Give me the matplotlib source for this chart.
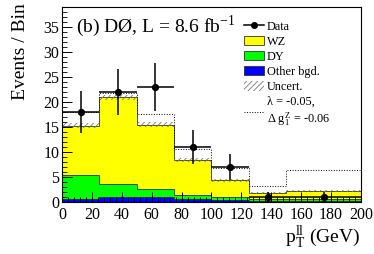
import numpy as np
import matplotlib
matplotlib.use('Agg')
import matplotlib.pyplot as plt
from matplotlib.lines import Line2D
import matplotlib.patches as mpatches
from matplotlib.ticker import MultipleLocator

plt.rcParams['font.family'] = ['Liberation Serif', 'DejaVu Serif']
plt.rcParams['mathtext.fontset'] = 'stix'
plt.rcParams['hatch.linewidth'] = 0.6

# pT(ll) bins (GeV)
edges = np.array([0, 25, 50, 75, 100, 125, 150, 200])
other = np.array([0.5, 1.0, 0.9, 0.5, 0.4, 0.2, 0.2])
dy = np.array([4.9, 2.5, 1.7, 0.9, 0.5, 0.3, 0.35])
wz = np.array([9.9, 17.5, 12.9, 7.0, 3.4, 1.2, 1.55])
uncert = np.array([0.6, 0.5, 0.5, 0.4, 0.3, 0.2, 0.2])
anom = np.array([18.0, 21.9, 17.6, 10.6, 6.7, 3.2, 6.3])  # lambda=-0.05, dg1Z=-0.06
data = np.array([18, 22, 23, 11, 7, 1, 1])

lw = 0.7
fig = plt.figure(figsize=(3.74, 2.54), dpi=100)
ax = fig.add_axes([0.166, 0.205, 0.799, 0.767])

s1 = other
s2 = other + dy
s3 = s2 + wz
ax.stairs(s1, edges, fill=True, color='#0000ff', lw=0)
ax.stairs(s2, edges, baseline=s1, fill=True, color='#00ff00', lw=0)
ax.stairs(s3, edges, baseline=s2, fill=True, color='#ffff00', lw=0)
for top in (s1, s2, s3):
    ax.stairs(top, edges, baseline=None, color='#333333', lw=0.6)
ax.stairs(s3 + uncert, edges, baseline=s3 - uncert, fill=True, facecolor='none',
          edgecolor='#777777', hatch='//////', lw=0)
ax.stairs(anom, edges, baseline=None, color='k', ls=':', lw=lw)

centers = 0.5 * (edges[1:] + edges[:-1])
halfw = 0.5 * (edges[1:] - edges[:-1])
ax.errorbar(centers, data, xerr=halfw, yerr=np.sqrt(data), fmt='o', color='k',
            ms=4.2, lw=1.1, capsize=0)

ax.set_xlim(0, 200)
ax.set_ylim(0, 39)
ax.xaxis.set_major_locator(MultipleLocator(20))
ax.xaxis.set_minor_locator(MultipleLocator(4))
ax.yaxis.set_major_locator(MultipleLocator(5))
ax.yaxis.set_minor_locator(MultipleLocator(1))
ax.tick_params(which='both', direction='in', top=False, right=False, labelsize=11.5)
ax.tick_params(which='major', length=7, width=0.7)
ax.tick_params(which='minor', length=3.5, width=0.6)
ax.tick_params(axis='x', pad=4)
ax.tick_params(axis='y', pad=2)
for sp in ax.spines.values():
    sp.set_linewidth(0.8)

ax.set_ylabel('Events / Bin', fontsize=14, loc='top')
ax.yaxis.set_label_coords(-0.112, 1.02)
ax.set_xlabel(r'p$_\mathregular{T}^\mathregular{ll}$ (GeV)', fontsize=14, loc='right')
ax.xaxis.set_label_coords(0.997, -0.11)

ax.text(0.047, 0.90, r'(b) DØ, L = 8.6 fb$^{\mathregular{-1}}$', transform=ax.transAxes,
        fontsize=14, va='center', ha='left')

h_data = Line2D([0], [0], marker='o', color='k', ms=4, lw=1.1)
h_wz = mpatches.Patch(facecolor='#ffff00', edgecolor='#333333', lw=0.6)
h_dy = mpatches.Patch(facecolor='#00ff00', edgecolor='#333333', lw=0.6)
h_ot = mpatches.Patch(facecolor='#0000ff', edgecolor='#333333', lw=0.6)
h_un = mpatches.Patch(facecolor='white', edgecolor='#777777', hatch='//////', lw=0)
h_an = Line2D([0], [0], color='k', ls=':', lw=lw)
labels = ['Data', 'WZ', 'DY', 'Other bgd.', 'Uncert.',
          'λ = -0.05,\nΔ g$_\\mathregular{1}^\\mathregular{Z}$ = -0.06']
ax.legend([h_data, h_wz, h_dy, h_ot, h_un, h_an], labels, loc='upper left',
          bbox_to_anchor=(0.587, 0.962), frameon=False, fontsize=8.8,
          handlelength=1.65, handleheight=0.85, handletextpad=0.25,
          labelspacing=0.24, borderpad=0)

fig.savefig('out.png', dpi=100)
